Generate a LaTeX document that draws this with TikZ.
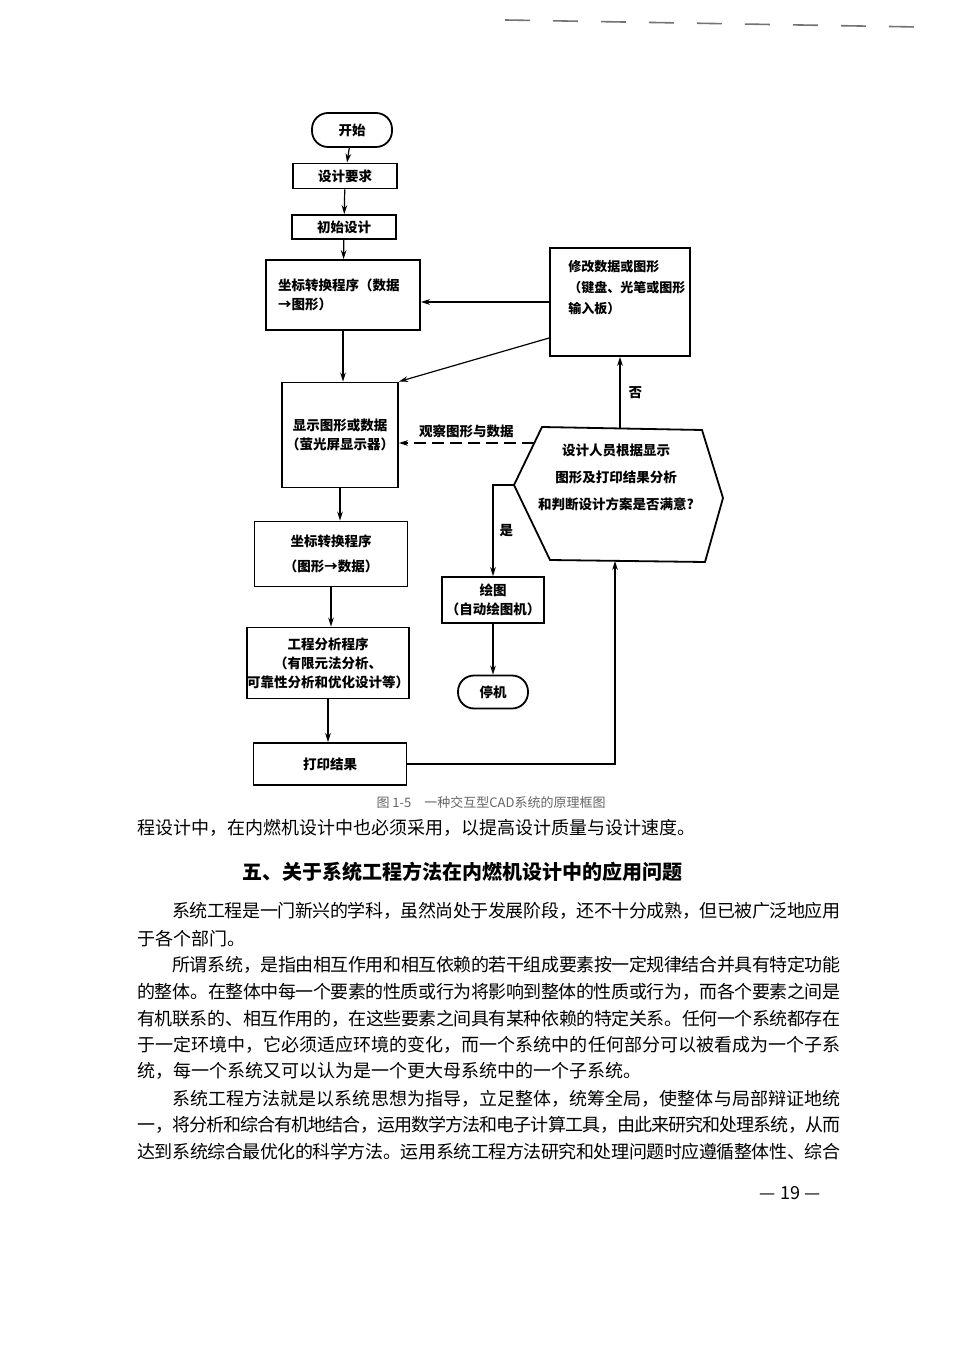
\documentclass[tikz,border=0pt]{standalone}
\usepackage{fontspec}
\newfontfamily\cjk{Noto Sans CJK SC}
\usetikzlibrary{arrows.meta}
\XeTeXlinebreaklocale "zh"
\XeTeXlinebreakskip=0pt plus 1pt minus 1pt
\newcommand\jline[1]{\noindent\parfillskip=0pt\relax #1\par}

\begin{document}
\begin{tikzpicture}[
  x=0.5pt, y=-0.5pt,
  font=\cjk,
  box/.style={
    draw,
    line width=0.9pt,
    inner sep=2pt,
    align=center,
    font=\cjk\bfseries\fontsize{6.75pt}{9.5pt}\selectfont
  },
  term/.style={box, rounded corners=8pt},
  flowtext/.style={
    inner sep=0pt,
    font=\cjk\bfseries\fontsize{6.75pt}{13.5pt}\selectfont
  },
  arr/.style={line width=0.6pt, -{Stealth[length=4.5pt,width=2.8pt]}},
  bodytext/.style={
    anchor=west,
    inner sep=0pt,
    font=\cjk\fontsize{9pt}{11pt}\selectfont
  },
  fullline/.style={bodytext, text width=#1, align=justify}
]

  % Page size, in scan pixels.
  \fill[white] (0,0) rectangle (952,1347);
  \useasboundingbox (0,0) rectangle (952,1347);

  % Running rule at the top.
  \draw[black!55, line width=0.8pt, dash pattern=on 12.5pt off 11.5pt] (505,20) -- (918,27);

  % Main column of the flow chart.
  \node[term, minimum width=40pt, minimum height=17pt] (start) at (352,130) {开始};
  \node[box, minimum width=52pt, minimum height=12.5pt] (require) at (345,176) {设计要求};
  \node[box, minimum width=52pt, minimum height=12pt] (initial) at (344,227) {初始设计};
  \node[box, minimum width=77pt, minimum height=35pt, text width=65pt, align=left] (convA) at (343,295) {坐标转换程序（数据\\→图形）};
  \node[box, minimum width=57.5pt, minimum height=52.5pt] (display) at (340,435) {显示图形或数据\\（萤光屏显示器）};
  \node[box, minimum width=76.5pt, minimum height=32.5pt, font=\cjk\bfseries\fontsize{6.75pt}{12.5pt}\selectfont] (convB) at (331,554) {坐标转换程序\\（图形→数据）};
  \node[box, minimum width=80pt, minimum height=35.5pt, inner xsep=0pt] (analysis) at (328,663) {工程分析程序\\（有限元法分析、\\可靠性分析和优化设计等）};
  \node[box, minimum width=76.5pt, minimum height=21pt] (print) at (330,764) {打印结果};

  % Right-hand column.
  \node[box, minimum width=70pt, minimum height=54pt] (modify) at (620,302) {};
  \node[flowtext, anchor=north west, align=left, font=\cjk\bfseries\fontsize{6.5pt}{10.5pt}\selectfont] (modifytext) at (568,260) {修改数据或图形\\（键盘、光笔或图形\\输入板）};
  \node[box, minimum width=49.5pt, minimum height=23pt] (plot) at (493,600) {绘图\\（自动绘图机）};
  \node[term, minimum width=35pt, minimum height=16.5pt] (stop) at (493,692) {停机};

  % Decision hexagon, drawn by its corners.
  \coordinate (hexTL) at (542,427);
  \coordinate (hexTR) at (702,430);
  \coordinate (hexR)  at (723,498);
  \coordinate (hexBR) at (705,562);
  \coordinate (hexBL) at (550,560);
  \coordinate (hexL)  at (514,485);
  \draw[line width=0.9pt] (hexTL) -- (hexTR) -- (hexR) -- (hexBR) -- (hexBL) -- (hexL) -- cycle;
  \node[flowtext, align=center] (decide) at (616,477) {设计人员根据显示\\图形及打印结果分析\\和判断设计方案是否满意?};
  \coordinate (hexT) at (620,428);
  \coordinate (hexB) at (615,561);
  \coordinate (hexW) at (534,443);

  % Connectors.
  \draw[arr] (start) -- (require);
  \draw[arr] (require) -- (initial);
  \draw[arr] (initial) -- (convA);
  \draw[arr] (convA.south) -- (convA.south |- display.north);
  \draw[arr] (display.south) -- (display.south |- convB.north);
  \draw[arr] (convB.south) -- (convB.south |- analysis.north);
  \draw[arr] (analysis.south) -- (analysis.south |- print.north);
  \draw[arr] (print.east) -| (hexB);
  \draw[arr] (hexT) -- (hexT |- modify.south)
    node[flowtext, midway, right=4pt] (labelno) {否};
  \draw[arr] (modify.west) -- (modify.west -| convA.east);
  \draw[arr] ([yshift=-18pt]modify.west) -- (display.north east);
  \draw[arr, dash pattern=on 6pt off 3pt] (hexW) -- (hexW -| display.east)
    node[flowtext, midway, above=2pt] (labelview) {观察图形与数据};
  \draw[arr] (hexL) -| (plot.north)
    node[flowtext, pos=0.75, right=3pt] (labelyes) {是};
  \draw[arr] (plot.south) -- (stop.north);

  % Caption.
  \node[font=\cjk\fontsize{6.5pt}{8pt}\selectfont, text=black!60] (caption) at (491,803) {图 1-5\quad 一种交互型CAD系统的原理框图};

  % Body text of the page.
  \node[bodytext] (endline) at (137,828) {程设计中，在内燃机设计中也必须采用，以提高设计质量与设计速度。};
  \node[font=\cjk\bfseries\fontsize{10pt}{12pt}\selectfont, inner sep=0pt] (heading) at (462,872) {五、关于系统工程方法在内燃机设计中的应用问题};
  \node[fullline=334pt] (parA1) at (172,911) {\jline{系统工程是一门新兴的学科，虽然尚处于发展阶段，还不十分成熟，但已被广泛地应用}};
  \node[bodytext] (parA2) at (137,939) {于各个部门。};
  \node[fullline=334pt] (parB1) at (172,965) {\jline{所谓系统，是指由相互作用和相互依赖的若干组成要素按一定规律结合并具有特定功能}};
  \node[fullline=351.5pt] (parB2) at (137,992) {\jline{的整体。在整体中每一个要素的性质或行为将影响到整体的性质或行为，而各个要素之间是}};
  \node[fullline=351.5pt] (parB3) at (137,1019) {\jline{有机联系的、相互作用的，在这些要素之间具有某种依赖的特定关系。任何一个系统都存在}};
  \node[fullline=351.5pt] (parB4) at (137,1045) {\jline{于一定环境中，它必须适应环境的变化，而一个系统中的任何部分可以被看成为一个子系}};
  \node[bodytext] (parB5) at (137,1071) {统，每一个系统又可以认为是一个更大母系统中的一个子系统。};
  \node[fullline=334pt] (parC1) at (172,1099) {\jline{系统工程方法就是以系统思想为指导，立足整体，统筹全局，使整体与局部辩证地统}};
  \node[fullline=351.5pt] (parC2) at (137,1125) {\jline{一，将分析和综合有机地结合，运用数学方法和电子计算工具，由此来研究和处理系统，从而}};
  \node[fullline=351.5pt] (parC3) at (137,1152) {\jline{达到系统综合最优化的科学方法。运用系统工程方法研究和处理问题时应遵循整体性、综合}};

  % Folio.
  \node[bodytext, anchor=center] (folio) at (790,1193) {— 19 —};

\end{tikzpicture}
\end{document}
